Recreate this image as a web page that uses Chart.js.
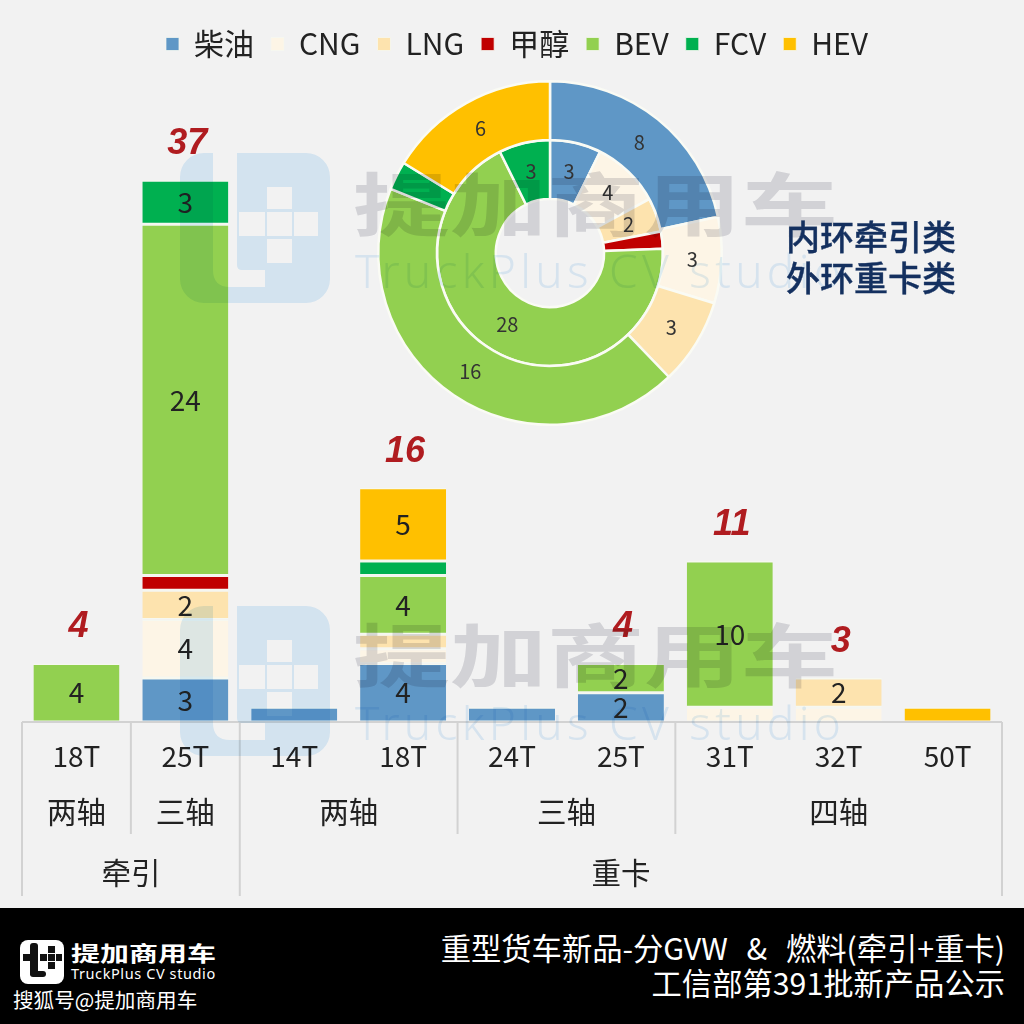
<!DOCTYPE html>
<html><head><meta charset="utf-8">
<script src="https://cdn.jsdelivr.net/npm/chart.js@4/dist/chart.umd.min.js"></script>
<style>
html,body{margin:0;padding:0;width:1024px;height:1024px;overflow:hidden;background:#f2f2f2;font-family:"Noto Sans CJK SC","Noto Sans",sans-serif}
#stage{position:relative;width:1024px;height:1024px;overflow:hidden;background:#f2f2f2;isolation:isolate}
canvas{position:absolute}
#bar{left:0;top:0}
#ring{left:370px;top:73px}
.wmLogo,.wmT,.wmE{mix-blend-mode:multiply;pointer-events:none}
.wmLogo{position:absolute;left:180px;width:150px;height:150px}
.wmT{position:absolute;left:353px;font-size:97px;font-weight:700;line-height:130px;color:#dedee2;white-space:nowrap;transform:scaleY(.72);transform-origin:50% 50%}
.wmE{position:absolute;left:355px;font-family:"Noto Sans";font-weight:300;font-size:46px;line-height:60px;letter-spacing:4.3px;color:#e2f0fb;white-space:nowrap}
#note{position:absolute;left:786px;top:215px;font-size:34px;line-height:41px;font-weight:500;color:#14305f;white-space:nowrap;-webkit-text-stroke:.4px #14305f}
#foot{position:absolute;left:0;top:908px;width:1024px;height:116px;background:#000;color:#fff}
#foot div{position:absolute;white-space:nowrap}
.t1,.t2{right:19px;font-size:30.3px;line-height:36px;text-align:right}
.t1{top:21px;word-spacing:12px}.t2{top:56px}
#brand{left:71px;top:27px;font-size:29px;font-weight:700;line-height:34px;transform:scaleY(.72);transform-origin:50% 50%}
#sub{left:71px;top:56px;font-family:"Noto Sans";font-size:14.5px;line-height:18px;letter-spacing:.6px}
#sh{left:13px;top:77px;font-size:20.6px;line-height:28px}
#lg{left:20px;top:32px;width:44px;height:44px;background:#fff;border-radius:8px}
#lg i{position:absolute;background:#111}
</style></head><body>
<div id="stage">
<canvas id="bar" width="1034" height="908"></canvas>
<canvas id="ring" width="360" height="360"></canvas>
<svg class="wmLogo" style="top:153px" viewBox="0 0 150 150"><path fill="#dff0fc" fill-rule="evenodd" d="M24 0H126A24 24 0 0 1 150 24V126A24 24 0 0 1 126 150H24A24 24 0 0 1 0 126V24A24 24 0 0 1 24 0Z M33 0H57V112Q57 117 62 117H85V134H50Q33 134 33 117Z M87 34H112V56H87Z M87 59H112V83H87Z M87 86H112V110H87Z M59 59H85V83H59Z M114 59H138V83H114Z"/></svg>
<div class="wmT" style="top:136px">提加商用车</div><div class="wmE" style="top:240px">TruckPlus CV studio</div>
<svg class="wmLogo" style="top:606px" viewBox="0 0 150 150"><path fill="#dff0fc" fill-rule="evenodd" d="M24 0H126A24 24 0 0 1 150 24V126A24 24 0 0 1 126 150H24A24 24 0 0 1 0 126V24A24 24 0 0 1 24 0Z M33 0H57V112Q57 117 62 117H85V134H50Q33 134 33 117Z M87 34H112V56H87Z M87 59H112V83H87Z M87 86H112V110H87Z M59 59H85V83H59Z M114 59H138V83H114Z"/></svg>
<div class="wmT" style="top:587px">提加商用车</div><div class="wmE" style="top:692px">TruckPlus CV studio</div>
<div id="note">内环牵引类<br>外环重卡类</div>
<div id="foot">
<div id="lg"><i style="left:10px;top:3px;width:8px;height:33px;border-radius:3px"></i><i style="left:10px;top:31px;width:16px;height:6px;border-radius:3px"></i><i style="left:3px;top:14px;width:15px;height:7px"></i><i style="left:20px;top:14px;width:7px;height:7px"></i><i style="left:28px;top:14px;width:7px;height:7px"></i><i style="left:36px;top:14px;width:6px;height:7px"></i><i style="left:28px;top:6px;width:7px;height:7px"></i><i style="left:28px;top:22px;width:7px;height:7px"></i></div>
<div id="brand">提加商用车</div><div id="sub">TruckPlus CV studio</div><div id="sh">搜狐号@提加商用车</div>
<div class="t1">重型货车新品-分GVW &amp; 燃料(牵引+重卡)</div><div class="t2">工信部第391批新产品公示</div>
</div>
</div>
<script>
const tonnage=['18T','25T','14T','18T','24T','25T','31T','32T','50T'];
const axle=['两轴','三轴','两轴','两轴','三轴','三轴','四轴','四轴','四轴'];
const vehicleType=['牵引','牵引','重卡','重卡','重卡','重卡','重卡','重卡','重卡'];
const fuels=['柴油','CNG','LNG','甲醇','BEV','FCV','HEV'];
const fuelColors=['#5f97c6','#fdf5e6','#fde3ae','#c00000','#92d050','#00b050','#ffc000'];
const diesel=[0,3,1,4,1,2,0,0,0];
const cng=[0,4,0,1,0,0,1,1,0];
const lng=[0,2,0,1,0,0,0,2,0];
const methanol=[0,1,0,0,0,0,0,0,0];
const bev=[4,24,0,4,0,2,10,0,0];
const fcv=[0,3,0,1,0,0,0,0,0];
const hev=[0,0,0,5,0,0,0,0,1];
const totals=[4,37,1,16,1,4,11,3,1];
const hiddenTotals=[2,4,8];
const ringHeavy=[8,3,3,0,16,1,6];
const ringTractor=[3,4,2,1,28,3,0];
const cjk='"Noto Sans CJK SC","Noto Sans",sans-serif';
const series=[diesel,cng,lng,methanol,bev,fcv,hev];

const multiAxis={id:'multiAxis',afterDraw(c){
  const g=c.ctx,x=c.scales.x,a=c.chartArea,base=a.bottom;
  const edge=i=>x.getPixelForValue(i)-(x.getPixelForValue(1)-x.getPixelForValue(0))/2;
  const n=tonnage.length;
  g.save();g.strokeStyle='#d2d2d2';g.lineWidth=2;
  const vline=(px,y2)=>{g.beginPath();g.moveTo(px,base);g.lineTo(px,y2);g.stroke();};
  g.beginPath();g.moveTo(edge(0),base);g.lineTo(edge(n),base);g.stroke();
  g.fillStyle='#222';g.font='29.5px '+cjk;g.textAlign='center';g.textBaseline='middle';
  let s=0;
  for(let i=1;i<=n;i++){
    if(i===n||axle[i]!==axle[s]||vehicleType[i]!==vehicleType[s]){
      g.fillText(axle[s],(edge(s)+edge(i))/2,base+90);
      if(i<n&&vehicleType[i]===vehicleType[s])vline(edge(i),base+112);
      s=i;
    }
  }
  s=0;
  for(let i=1;i<=n;i++){
    if(i===n||vehicleType[i]!==vehicleType[s]){
      g.fillText(vehicleType[s],(edge(s)+edge(i))/2,base+151);
      vline(edge(i),base+174);
      s=i;
    }
  }
  vline(edge(0),base+174);
  g.restore();
}};
const barLabels={id:'barLabels',afterDatasetsDraw(c){
  const g=c.ctx;g.save();g.textAlign='center';g.textBaseline='middle';
  g.font='28px '+cjk;g.fillStyle='#222';
  c.data.datasets.forEach((d,di)=>{
    c.getDatasetMeta(di).data.forEach((el,i)=>{
      if(d.data[i]>=2){const p=el.getCenterPoint();g.fillText(d.data[i],p.x,p.y);}
    });
  });
  g.font='italic bold 36px "Liberation Sans",'+cjk;g.fillStyle='#b01c20';
  totals.forEach((t,i)=>{
    if(hiddenTotals.includes(i))return;
    g.fillText(t,c.scales.x.getPixelForValue(i)+2,c.scales.y.getPixelForValue(t)-36);
  });
  g.restore();
}};
new Chart(document.getElementById('bar'),{
  type:'bar',
  data:{labels:tonnage,datasets:fuels.map((f,i)=>({label:f,data:series[i],backgroundColor:fuelColors[i],borderColor:'#f6f8f0',borderWidth:{top:1.5,bottom:1.5,left:0,right:0},borderSkipped:false,barPercentage:.79,categoryPercentage:1}))},
  options:{responsive:false,animation:false,
    layout:{padding:{left:22,right:22,top:12,bottom:0}},
    scales:{
      x:{stacked:true,grid:{display:false},border:{display:false},
        ticks:{color:'#222',font:{size:28,family:cjk},padding:10,maxRotation:0,autoSkip:false},
        afterFit(s){s.height=186;}},
      y:{stacked:true,position:'right',min:0,max:44.6,grid:{display:false},border:{display:false},
        ticks:{display:false},afterFit(s){s.width=10;}}
    },
    plugins:{tooltip:{enabled:false},
      legend:{position:'top',labels:{boxWidth:13,boxHeight:13,color:'#222',font:{size:30,family:cjk},padding:17}}}
  },
  plugins:[multiAxis,barLabels]
});
const ringLabels={id:'ringLabels',afterDatasetsDraw(c){
  const g=c.ctx;g.save();g.textAlign='center';g.textBaseline='middle';g.font='20px '+cjk;g.fillStyle='#333';
  c.data.datasets.forEach((d,di)=>{
    c.getDatasetMeta(di).data.forEach((el,i)=>{
      if(d.data[i]>=2){const p=el.tooltipPosition();g.fillText(d.data[i],p.x,p.y);}
    });
  });
  g.restore();
}};
new Chart(document.getElementById('ring'),{
  type:'doughnut',
  data:{labels:fuels,datasets:[
    {label:'重卡',data:ringHeavy,backgroundColor:fuelColors,borderColor:'#fafbf4',borderWidth:2.5},
    {label:'牵引',data:ringTractor,backgroundColor:fuelColors,borderColor:'#fafbf4',borderWidth:2.5}
  ]},
  options:{responsive:false,animation:false,cutout:'31.5%',layout:{padding:7},
    plugins:{legend:{display:false},tooltip:{enabled:false}}},
  plugins:[ringLabels]
});
</script>
</body></html>
